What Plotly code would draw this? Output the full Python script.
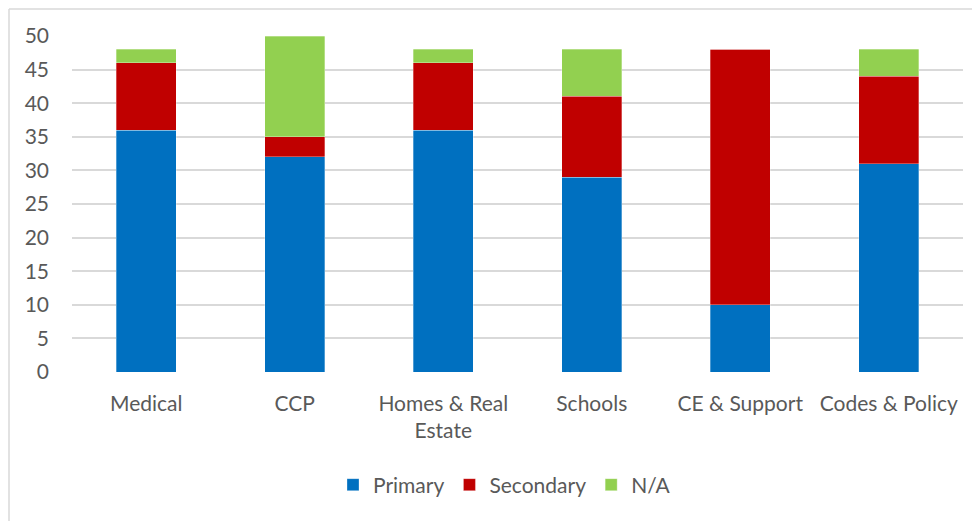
import plotly.graph_objects as go

categories = ["Medical", "CCP", "Homes & Real<br>Estate", "Schools", "CE & Support", "Codes & Policy"]
primary = [36, 32, 36, 29, 10, 31]
secondary = [10, 3, 10, 12, 38, 13]
na = [2, 15, 2, 7, 0, 4]
y_ticks = [0, 5, 10, 15, 20, 25, 30, 35, 40, 45, 50]

# page has an 8px body margin; figure occupies 972x513 starting at (8,8)
W, H = 972, 513
ml, mr, mt, mb = 64, 17, 28, 149
pw, ph = W - ml - mr, H - mt - mb

font_family = "Lato, 'Open Sans', sans-serif"
txt = "#595959"
fs = 21

fig = go.Figure()
for name, vals, col in [("Primary", primary, "#0070C0"),
                        ("Secondary", secondary, "#C00000"),
                        ("N/A", na, "#92D050")]:
    fig.add_trace(go.Bar(x=categories, y=vals, name=name,
                         marker=dict(color=col, line=dict(color="rgba(255,255,255,0.5)", width=0.6))))

# frame lines (top and left)
fx = (1 - ml) / pw
fy_top = 1 + (mt - 1) / ph
fig.add_shape(type="line", xref="paper", yref="paper", x0=fx, x1=(W + 5 - ml) / pw, y0=fy_top, y1=fy_top,
              line=dict(color="#D9D9D9", width=1.5))
fig.add_shape(type="line", xref="paper", yref="paper", x0=fx, x1=fx, y0=fy_top, y1=-(mb + 5) / ph,
              line=dict(color="#D9D9D9", width=1.5))

fig.update_layout(
    barmode="stack",
    bargap=0.596,
    width=W, height=H,
    margin=dict(l=ml, r=mr, t=mt, b=mb, pad=0),
    paper_bgcolor="white", plot_bgcolor="white",
    font=dict(family=font_family, size=fs, color=txt),
    xaxis=dict(showgrid=False, zeroline=False, showline=False, ticks="", tickfont=dict(size=fs, color=txt),
               ticklabelstandoff=17),
    yaxis=dict(range=[0, 50], tickvals=y_ticks, showgrid=True, gridcolor="#D9D9D9", gridwidth=1.5,
               zeroline=False, showline=False, ticks="", tickfont=dict(size=fs, color=txt),
               ticklabelstandoff=22),
    legend=dict(orientation="h", x=0.5 - 13 / pw, xanchor="center", y=1 - (477 - mt) / ph, yanchor="middle",
                font=dict(size=fs, color=txt), itemwidth=30, traceorder="normal"),
    showlegend=True,
)

fig.write_html("out.html")
